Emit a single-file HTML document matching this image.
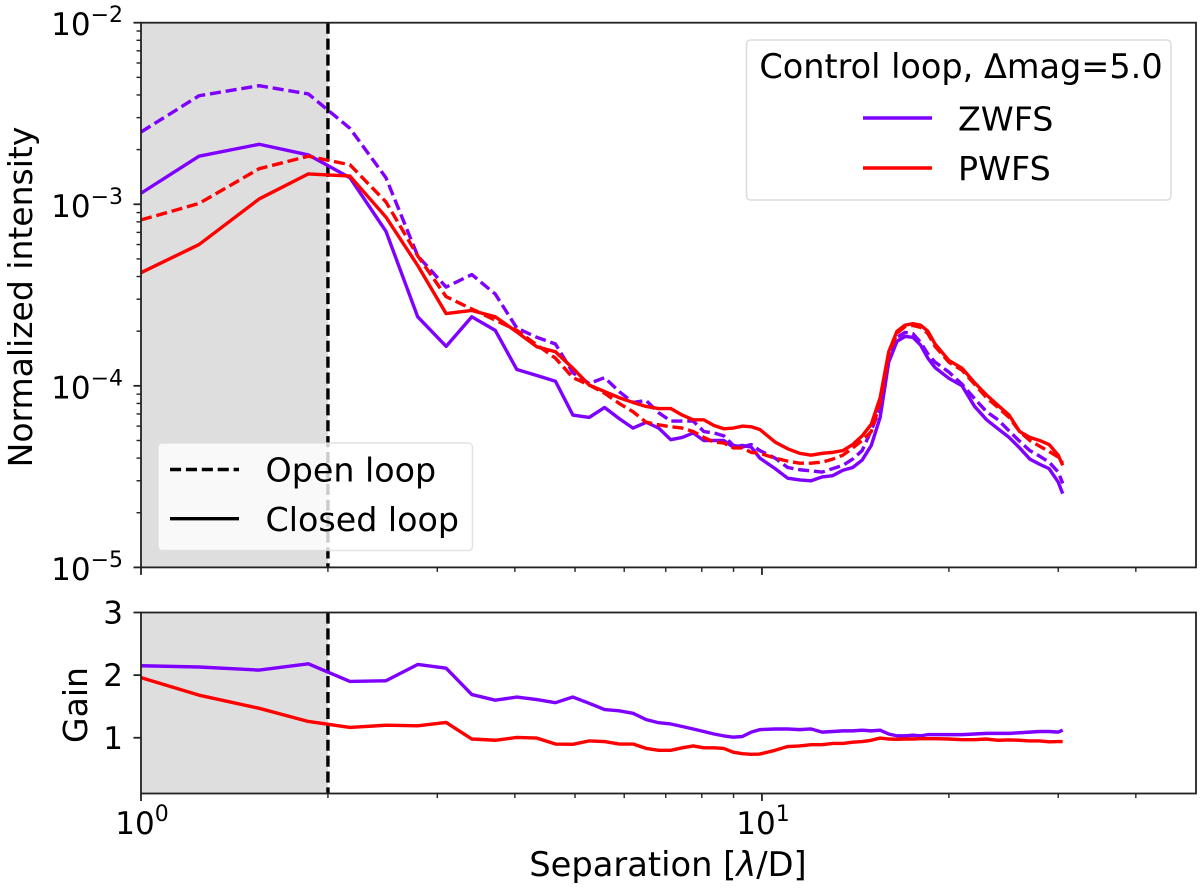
<!DOCTYPE html>
<html lang="en">
<head>
<meta charset="utf-8">
<title>Control loop contrast curves</title>
<style>
html,body{margin:0;padding:0;background:#fff;}
svg{display:block;filter:blur(0.35px);}
text{font-family:"DejaVu Sans","Liberation Sans",sans-serif;fill:#000;}
</style>
</head>
<body>
<svg id="chart" xmlns="http://www.w3.org/2000/svg" width="1200" height="889" viewBox="0 0 1200 889">
  <g id="marks-layer"></g>
  <g id="axes-layer"></g>
  <text transform="translate(32,297) rotate(-90)" text-anchor="middle" font-size="33">Normalized intensity</text>
  <text transform="translate(87,705) rotate(-90)" text-anchor="middle" font-size="33">Gain</text>
  <text x="668" y="876" text-anchor="middle" font-size="33.7">Separation [<tspan font-style="italic">λ</tspan>/D]</text>

  <g>
    <rect x="746.5" y="40" width="424.5" height="160" rx="4" fill="#fff" fill-opacity="0.8" stroke="#dcdcdc" stroke-width="1.5"/>
    <text x="961" y="78" text-anchor="middle" font-size="33.5">Control loop, Δmag=5.0</text>
    <line x1="863" y1="118" x2="932" y2="118" stroke="#7f00ff" stroke-width="3.4"/>
    <text x="958" y="130.5" font-size="33.3">ZWFS</text>
    <line x1="863" y1="168" x2="932" y2="168" stroke="#ff0000" stroke-width="3.4"/>
    <text x="958" y="180" font-size="33.3">PWFS</text>
  </g>
  <g>
    <rect x="158" y="443" width="314.5" height="107.5" rx="4" fill="#fff" fill-opacity="0.8" stroke="#dcdcdc" stroke-opacity="0.8" stroke-width="1.5"/>
    <line x1="170" y1="469.5" x2="239" y2="469.5" stroke="#000" stroke-width="3.4" stroke-dasharray="11.1 4.8"/>
    <text x="265.5" y="481.5" font-size="33.3">Open loop</text>
    <line x1="170" y1="518.7" x2="239" y2="518.7" stroke="#000" stroke-width="3.4"/>
    <text x="265.5" y="531" font-size="33.3">Closed loop</text>
  </g>
</svg>
<script>
// Separation in lambda/D
const separation = [
  1.00,1.24,1.55,1.86,2.17,2.48,2.79,3.10,3.41,3.72,
  4.03,4.34,4.65,4.96,5.27,5.58,5.89,6.20,6.51,6.82,
  7.13,7.44,7.75,8.06,8.37,8.68,8.99,9.30,9.61,9.92,
  10.5,11,11.5,12,12.5,13,13.5,14,14.5,15,
  15.5,16,16.5,17,17.5,18,18.5,19,20,21,
  22,23,24,25,26,27,28,29,30,30.5
];
// Normalized intensity, in units of 1e-5
const zwfsOpen = [
  250,396,450,405,262,140,52,35,41,32,
  20.8,18.5,17,11.8,10.3,11.1,9.3,8.1,8.3,7.1,
  6.4,6.4,6.4,5.6,5.5,5.3,4.7,4.6,4.75,4.4,
  4.0,3.55,3.45,3.4,3.35,3.5,3.65,3.95,4.4,5.7,
  7.5,14.6,18.5,19.7,19.4,17.4,15,13.5,11.9,10.2,
  8.5,7.2,6.5,5.65,4.95,4.4,4.1,3.8,3.35,2.9
];
const zwfsClosed = [
  115,184,214,187,140,71,24,16.5,24,20.2,
  12.3,11.4,10.6,6.9,6.7,7.6,6.6,5.85,6.3,5.85,
  5.05,5.2,5.5,5.0,5.0,5.0,4.6,4.7,4.6,4.0,
  3.5,3.1,3.03,3.0,3.15,3.2,3.43,3.55,3.9,4.7,
  6.7,13.5,17.6,18.7,18.5,16.8,14.2,12.6,11,10,
  7.7,6.5,5.8,5.2,4.55,3.95,3.7,3.5,2.95,2.55
];
const pwfsOpen = [
  82,101,157,184,165,103,52,31,26.5,23,
  20.2,16.8,14.2,11.1,10.1,9.1,8,7.2,6.3,6.1,
  5.95,5.85,5.6,5.2,4.9,4.85,4.55,4.55,4.3,4.25,
  4,3.85,3.75,3.75,3.8,3.95,4.15,4.55,5,5.6,
  8.1,14.8,19.5,21.2,21.5,21,19.4,16.5,13.5,12.2,
  10.2,8.6,7.6,6.7,5.6,5,4.65,4.35,4.05,3.75
];
const pwfsClosed = [
  42,60,107,147,143,85,46,25,26,24,
  19.8,16.4,15.4,12.5,10.1,9.3,8.6,8.1,7.7,7.5,
  7.5,6.9,6.5,6.5,6.05,5.8,5.85,6,5.95,5.75,
  4.9,4.5,4.25,4.15,4.25,4.3,4.4,4.75,5.3,6.15,
  8.6,15.4,20,21.6,22,21.6,20,17,13.8,12.5,
  10.4,8.9,7.8,6.9,5.6,5.2,5,4.75,4.15,3.65
];
// Gain (open / closed)
const zwfsGain = [
  2.15,2.13,2.08,2.18,1.90,1.91,2.17,2.11,1.69,1.60,
  1.65,1.61,1.56,1.65,1.55,1.45,1.43,1.39,1.29,1.24,
  1.22,1.18,1.14,1.10,1.06,1.03,1.01,1.02,1.09,1.13,
  1.14,1.14,1.13,1.14,1.09,1.10,1.11,1.11,1.12,1.11,
  1.12,1.06,1.03,1.03,1.04,1.03,1.05,1.05,1.05,1.05,
  1.06,1.07,1.07,1.07,1.08,1.09,1.10,1.10,1.09,1.12
];
const pwfsGain = [
  1.96,1.68,1.47,1.26,1.165,1.20,1.19,1.245,0.98,0.96,
  1.005,0.995,0.90,0.895,0.95,0.94,0.90,0.90,0.83,0.80,
  0.80,0.84,0.87,0.84,0.84,0.83,0.77,0.745,0.735,0.74,
  0.80,0.86,0.87,0.89,0.89,0.91,0.91,0.93,0.94,0.96,
  0.995,0.98,0.975,0.98,0.98,0.985,0.985,0.985,0.98,0.97,
  0.97,0.98,0.96,0.965,0.96,0.95,0.95,0.935,0.94,0.94
];
// Tick values and labels
const xMajorTicks = [1, 10];
const xMajorExponents = ['0', '1'];
const xMinorTicks = [2,3,4,5,6,7,8,9,20,30,40];
const intensityDecades = [1e-5, 1e-4, 1e-3, 1e-2];
const intensityExponents = ['−5', '−4', '−3', '−2'];
const intensityMinorFactors = [2,3,4,5,6,7,8,9];
const gainTicks = [1, 2, 3];
const gainTickLabels = ['1', '2', '3'];
const innerWorkingAngle = 2;
const intensityUnit = 1e-5;
const xDomain = [1, 50];
const intensityDomain = [1e-5, 1e-2];
const gainDomain = [0.11, 3];

const plotLeft = 141, plotRight = 1196;
const topPanelTop = 22.7, topPanelBottom = 567.4;
const gainPanelTop = 612.5, gainPanelBottom = 793.5;

function xScale(s) {
  return plotLeft + (plotRight - plotLeft) * Math.log10(s / xDomain[0]) / Math.log10(xDomain[1] / xDomain[0]);
}
function intensityScale(v) {
  return topPanelBottom - (topPanelBottom - topPanelTop) * Math.log10(v / intensityDomain[0]) / Math.log10(intensityDomain[1] / intensityDomain[0]);
}
function gainScale(g) {
  return gainPanelBottom - (gainPanelBottom - gainPanelTop) * (g - gainDomain[0]) / (gainDomain[1] - gainDomain[0]);
}

const NS = 'http://www.w3.org/2000/svg';
const marksLayer = document.getElementById('marks-layer');
const axesLayer = document.getElementById('axes-layer');

function seg(parent, x1, y1, x2, y2, color, width) {
  const el = document.createElementNS(NS, 'line');
  el.setAttribute('x1', x1);
  el.setAttribute('y1', y1);
  el.setAttribute('x2', x2);
  el.setAttribute('y2', y2);
  el.setAttribute('stroke', color);
  el.setAttribute('stroke-width', width);
  parent.appendChild(el);
  return el;
}
function tickMark(x1, y1, x2, y2, width) {
  const el = seg(axesLayer, x1, y1, x2, y2, '#222', width);
  
  
}
function powerLabel(x, y, anchor, exponent) {
  const el = document.createElementNS(NS, 'text');
  
  
  el.setAttribute('x', x);
  el.setAttribute('y', y);
  el.setAttribute('text-anchor', anchor);
  el.setAttribute('font-size', '31');
  const base = document.createElementNS(NS, 'tspan');
  base.textContent = '10';
  el.appendChild(base);
  const sup = document.createElementNS(NS, 'tspan');
  sup.setAttribute('dy', '-13');
  sup.setAttribute('font-size', '22');
  sup.textContent = exponent;
  el.appendChild(sup);
  axesLayer.appendChild(el);
}
function plainLabel(x, y, text) {
  const el = document.createElementNS(NS, 'text');
  
  
  el.setAttribute('x', x);
  el.setAttribute('y', y);
  el.setAttribute('text-anchor', 'end');
  el.setAttribute('font-size', '31');
  el.textContent = text;
  axesLayer.appendChild(el);
}
function shade(top, bottom) {
  const el = document.createElementNS(NS, 'rect');
  
  
  el.setAttribute('x', plotLeft);
  el.setAttribute('y', top);
  el.setAttribute('width', xScale(innerWorkingAngle) - plotLeft);
  el.setAttribute('height', bottom - top);
  el.setAttribute('fill', '#dedede');
  marksLayer.appendChild(el);
}
function series(xs, ys, yFn, color, dashed, name) {
  const el = document.createElementNS(NS, 'polyline');
  
  
  el.setAttribute('points', xs.map(function (s, i) {
    return xScale(s).toFixed(2) + ',' + yFn(ys[i]).toFixed(2);
  }).join(' '));
  el.setAttribute('fill', 'none');
  el.setAttribute('stroke', color);
  el.setAttribute('stroke-width', '3.4');
  el.setAttribute('stroke-linejoin', 'round');
  if (dashed) el.setAttribute('stroke-dasharray', '11.1 4.8');
  marksLayer.appendChild(el);
}
function vLine(top, bottom) {
  const xv = xScale(innerWorkingAngle);
  const el = seg(marksLayer, xv, top, xv, bottom, '#000', 3.4);
  el.setAttribute('stroke-dasharray', '11.1 4.8');
  
  
}
function spines(top, bottom) {
  const el = document.createElementNS(NS, 'rect');
  
  
  el.setAttribute('x', plotLeft);
  el.setAttribute('y', top);
  el.setAttribute('width', plotRight - plotLeft);
  el.setAttribute('height', bottom - top);
  el.setAttribute('fill', 'none');
  el.setAttribute('stroke', '#222');
  el.setAttribute('stroke-width', '1.8');
  axesLayer.appendChild(el);
}

const intensityFn = function (v) { return intensityScale(v * intensityUnit); };

shade(topPanelTop, topPanelBottom);
shade(gainPanelTop, gainPanelBottom);
vLine(topPanelTop, topPanelBottom);
vLine(gainPanelTop, gainPanelBottom);

series(separation, zwfsOpen, intensityFn, '#7f00ff', true, 'zwfs-open-loop-line');
series(separation, zwfsClosed, intensityFn, '#7f00ff', false, 'zwfs-closed-loop-line');
series(separation, pwfsOpen, intensityFn, '#ff0000', true, 'pwfs-open-loop-line');
series(separation, pwfsClosed, intensityFn, '#ff0000', false, 'pwfs-closed-loop-line');
series(separation, zwfsGain, gainScale, '#7f00ff', false, 'zwfs-gain-line');
series(separation, pwfsGain, gainScale, '#ff0000', false, 'pwfs-gain-line');

spines(topPanelTop, topPanelBottom);
spines(gainPanelTop, gainPanelBottom);

[topPanelBottom, gainPanelBottom].forEach(function (yb) {
  xMajorTicks.forEach(function (s) { tickMark(xScale(s), yb, xScale(s), yb + 7.5, 1.8); });
  xMinorTicks.forEach(function (s) { tickMark(xScale(s), yb, xScale(s), yb + 4.5, 1.4); });
});
xMajorTicks.forEach(function (s, i) {
  powerLabel(xScale(s) + 1, 834, 'middle', xMajorExponents[i]);
});
intensityDecades.forEach(function (d, i) {
  const y = intensityScale(d);
  tickMark(plotLeft - 7.5, y, plotLeft, y, 1.8);
  powerLabel(123, y + 12.5, 'end', intensityExponents[i]);
  if (i < intensityDecades.length - 1) {
    intensityMinorFactors.forEach(function (f) {
      const ym = intensityScale(d * f);
      tickMark(plotLeft - 4.5, ym, plotLeft, ym, 1.4);
    });
  }
});
gainTicks.forEach(function (g, i) {
  const y = gainScale(g);
  tickMark(plotLeft - 7.5, y, plotLeft, y, 1.8);
  plainLabel(123, y + 11, gainTickLabels[i]);
});
</script>
</body>
</html>
